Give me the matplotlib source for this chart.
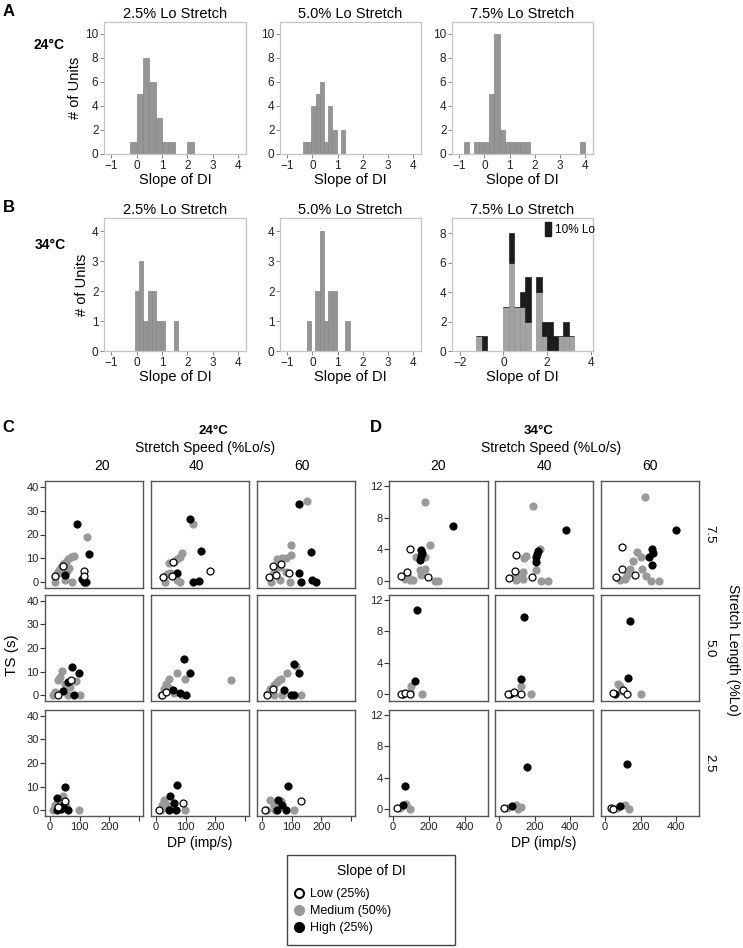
import matplotlib
matplotlib.use('Agg')
import matplotlib.pyplot as plt
from matplotlib.lines import Line2D
from matplotlib.patches import Patch, Rectangle

plt.rcParams['font.family'] = ['Liberation Sans', 'DejaVu Sans']

# ---- histogram data (bin start, bin width, counts) ----
hist_titles = ['2.5% Lo Stretch', '5.0% Lo Stretch', '7.5% Lo Stretch']

a_starts = [-0.25, -0.37, -0.8]
a_widths = [0.25, 0.166, 0.2]
a25_counts = [1, 5, 8, 6, 3, 1, 1, 0, 0, 1]
a50_counts = [1, 1, 4, 5, 6, 1, 4, 2, 0, 2]
a75_counts = [1, 0, 1, 1, 1, 5, 10, 2, 1, 1, 1, 1, 1, 0, 0, 0, 0, 0, 0, 0, 0, 0, 0, 1]

b_starts = [-0.07, -0.22, -1.25]
b_widths = [0.17, 0.17, 0.25]
b25_counts = [2, 3, 1, 2, 2, 1, 1, 0, 0, 1]
b50_counts = [1, 0, 2, 4, 1, 2, 2, 0, 0, 1]
b75_counts = [1, 0, 0, 0, 0, 3, 6, 3, 3, 2, 0, 4, 1, 0, 0, 1, 1, 1]
b75_10lo = [0, 1, 0, 0, 0, 0, 2, 0, 1, 3, 0, 1, 1, 2, 1, 0, 1, 0]

# ---- scatter data: (DP, TS) per slope group ----
# 24C, stretch length 7.5 / 5.0 / 2.5, speed 20 / 40 / 60
c75_20 = dict(
    low=[(113, 4.9), (113, 2.8), (15, 2.8), (43, 7)],
    med=[(126, 18.8), (81, 11), (72, 10.4), (62, 9.6), (53, 8.6), (45, 7.7), (37, 6.6), (29, 5.2),
         (23, 4), (17, 2.4), (17, 0.3), (51, 1), (73, 0.3), (64, 5.9), (56, 4.9), (39, 3.8)],
    high=[(92, 24.3), (130, 11.8), (51, 3.1), (109, 1.3), (113, 0.1), (122, 0.1)])
c75_40 = dict(
    low=[(56, 8.6), (23, 2.4), (54, 2.6), (180, 4.9)],
    med=[(124, 24.4), (88, 12.1), (82, 10.7), (71, 9.6), (62, 8.6), (43, 7.9), (37, 3.5), (48, 3.8),
         (60, 3.1), (29, 0), (82, 0), (71, 1)],
    high=[(114, 26.6), (150, 13.2), (71, 4), (124, 0), (146, 0.7)])
c75_60 = dict(
    low=[(37, 6.8), (65, 7.5), (90, 4), (23, 2.4), (46, 2.9)],
    med=[(151, 34.1), (96, 15.6), (98, 11.4), (82, 10), (68, 10.3), (51, 9.6), (62, 6.6), (79, 4.5),
         (39, 4.5), (30, 0), (62, 1), (93, 0)],
    high=[(126, 32.6), (164, 12.8), (124, 4), (130, 0), (169, 1), (181, 0)])
c50_20 = dict(
    low=[(71, 6.3), (28, 0)],
    med=[(39, 10.1), (34, 7.7), (28, 6.3), (17, 1.4), (51, 4.9), (68, 3.5), (88, 5.9), (101, 0),
         (62, 0), (11, 0)],
    high=[(75, 11.9), (96, 9.5), (62, 5.6), (45, 1.8), (79, 0)])
c50_40 = dict(
    low=[(20, 0), (32, 1.4)],
    med=[(71, 9.3), (43, 6.7), (35, 4.6), (26, 2.8), (99, 7), (251, 6.6), (15, 0), (60, 1), (88, 0),
         (40, 3.4)],
    high=[(93, 15.2), (113, 9.5), (56, 2.1), (79, 1.1), (101, 0)])
c50_60 = dict(
    low=[(37, 2.8), (17, 0)],
    med=[(84, 9.3), (65, 7), (51, 5.6), (39, 4.2), (28, 2.8), (17, 0.7), (39, 0), (130, 0), (113, 12.6),
         (56, 6.3), (68, 0)],
    high=[(109, 13.3), (126, 9.5), (73, 2.1), (99, 0), (107, 0)])
c25_20 = dict(
    low=[(51, 3.8), (28, 1.4)],
    med=[(45, 6.1), (34, 3.8), (17, 2.4), (9, 0.3), (96, 0.3), (53, 2)],
    high=[(51, 9.8), (25, 5.4), (45, 1.7), (23, 0.3), (37, 0.6), (62, 0.3)])
c25_40 = dict(
    low=[(90, 3.3), (9, 0.3)],
    med=[(26, 4.5), (37, 2.4), (15, 0.3), (99, 0.3), (20, 2.4), (48, 1.4)],
    high=[(69, 10.7), (48, 5.9), (60, 3.1), (43, 0.3), (68, 0.3)])
c25_60 = dict(
    low=[(132, 3.8), (11, 0.3)],
    med=[(28, 4.5), (39, 2.4), (17, 0.3), (107, 0.3), (65, 3.8), (45, 0.3)],
    high=[(87, 10.3), (54, 4.5), (68, 2.1), (51, 0.3), (79, 0.3)])

# 34C
d75_20 = dict(
    low=[(96, 4), (80, 1.1), (46, 0.7), (194, 0.5)],
    med=[(176, 10), (204, 4.5), (130, 3.1), (176, 3.1), (148, 1.4), (176, 1.5), (157, 0.8), (65, 0.3),
         (111, 0.1), (231, 0), (250, 0), (93, 0.2), (83, 0.5)],
    high=[(333, 6.9), (157, 3.9), (163, 3.6), (154, 3.2), (148, 2.7)])
d75_40 = dict(
    low=[(94, 3.3), (89, 1.3), (57, 0.4), (185, 0.5)],
    med=[(194, 9.5), (228, 4.1), (154, 3.2), (141, 2.9), (206, 1.4), (135, 1.2), (117, 0.8), (135, 0.3),
         (237, 0), (274, 0), (98, 0.1), (83, 0.5)],
    high=[(376, 6.5), (219, 3.8), (213, 3.4), (206, 3.1), (206, 2.4)])
d75_60 = dict(
    low=[(96, 4.3), (96, 1.5), (63, 0.5), (169, 0.8)],
    med=[(224, 10.6), (181, 3.7), (202, 3.1), (156, 2.6), (206, 1.6), (141, 1.5), (122, 0.8), (230, 0.6),
         (113, 0.3), (259, 0), (302, 0), (85, 0.2)],
    high=[(400, 6.4), (267, 4.1), (270, 3.5), (248, 3.1), (267, 2)])
d50_20 = dict(
    low=[(46, 0.1), (65, 0.2), (93, 0.1)],
    med=[(102, 1.1), (161, 0), (93, 0.3)],
    high=[(133, 10.7), (120, 1.7), (56, 0)])
d50_40 = dict(
    low=[(52, 0.1), (83, 0.3), (126, 0)],
    med=[(126, 1.1), (181, 0), (98, 0.2)],
    high=[(139, 9.8), (126, 1.9), (61, 0)])
d50_60 = dict(
    low=[(48, 0.2), (104, 0.6), (122, 0)],
    med=[(85, 1.1), (76, 1.3), (200, 0), (94, 0.4)],
    high=[(141, 9.3), (128, 2.1), (57, 0)])
d25_20 = dict(
    low=[(24, 0.2)],
    med=[(74, 0.7), (96, 0.1), (37, 0.2)],
    high=[(69, 2.9), (56, 0.5)])
d25_40 = dict(
    low=[(28, 0.2)],
    med=[(98, 0.6), (43, 0.2), (126, 0.3), (107, 0.1)],
    high=[(159, 5.4), (74, 0.4)])
d25_60 = dict(
    low=[(35, 0.2), (48, 0.1)],
    med=[(113, 0.6), (137, 0.1), (67, 0.2)],
    high=[(122, 5.8), (85, 0.4)])

speeds = ['20', '40', '60']
lengths = ['7.5', '5.0', '2.5']
group_labels = ['Low (25%)', 'Medium (50%)', 'High (25%)']

W, H = 743, 948
fig = plt.figure(figsize=(W / 100, H / 100), dpi=100)


def add_ax(l, t, r, b):
    # axes from pixel box of the figure
    return fig.add_axes([l / W, 1 - b / H, (r - l) / W, (b - t) / H])


def ftext(x, y, s, **kw):
    kw.setdefault('ha', 'center')
    kw.setdefault('va', 'center')
    fig.text(x / W, 1 - y / H, s, **kw)


def style_hist(ax):
    for sp in ax.spines.values():
        sp.set_color('#c4c4c4')
        sp.set_linewidth(0.9)
    ax.tick_params(length=3, width=0.7, color='#888888', labelsize=8.5, labelcolor='#222222', pad=1)


hist_cols = [(104, 246), (280, 421), (452, 593)]
bar_grey = '#959595'

# row A (24C)
for i, counts in enumerate([a25_counts, a50_counts, a75_counts]):
    l, r = hist_cols[i]
    ax = add_ax(l, 22, r, 154)
    lefts = [a_starts[i] + a_widths[i] * k for k in range(len(counts))]
    ax.bar(lefts, counts, width=a_widths[i], align='edge', color=bar_grey,
           edgecolor='#868686', linewidth=0.5)
    ax.set_xlim(-1.28, 4.3)
    ax.set_ylim(0, 11)
    ax.set_xticks([-1, 0, 1, 2, 3, 4])
    ax.set_yticks([0, 2, 4, 6, 8, 10])
    style_hist(ax)
    ax.set_title(hist_titles[i], fontsize=10.5, pad=3)
    ax.set_xlabel('Slope of DI', fontsize=10.5, labelpad=1)
    if i == 0:
        ax.set_ylabel('# of Units', fontsize=10.5, labelpad=2)

# row B (34C)
for i, counts in enumerate([b25_counts, b50_counts, b75_counts]):
    l, r = hist_cols[i]
    ax = add_ax(l, 218, r, 351)
    lefts = [b_starts[i] + b_widths[i] * k for k in range(len(counts))]
    if i < 2:
        ax.bar(lefts, counts, width=b_widths[i], align='edge', color=bar_grey,
               edgecolor='#868686', linewidth=0.5)
        ax.set_xlim(-1.28, 4.3)
        ax.set_ylim(0, 4.45)
        ax.set_xticks([-1, 0, 1, 2, 3, 4])
        ax.set_yticks([0, 1, 2, 3, 4])
    else:
        ax.bar(lefts, counts, width=b_widths[i], align='edge', color='#a3a3a3',
               edgecolor='#939393', linewidth=0.5)
        ax.bar(lefts, b75_10lo, bottom=counts, width=b_widths[i], align='edge',
               color='#1c1c1c', edgecolor='#1c1c1c', linewidth=0.5)
        ax.set_xlim(-2.35, 4.1)
        ax.set_ylim(0, 9.02)
        ax.set_xticks([-2, 0, 2, 4])
        ax.set_yticks([0, 2, 4, 6, 8])
        ax.legend(handles=[Patch(facecolor='#1c1c1c', edgecolor='#1c1c1c')], labels=['10% Lo'],
                  loc='upper left', bbox_to_anchor=(0.66, 0.97), frameon=False, fontsize=8.5,
                  handlelength=0.5, handleheight=1.4, handletextpad=0.3, borderpad=0,
                  borderaxespad=0)
    style_hist(ax)
    ax.set_title(hist_titles[i], fontsize=10.5, pad=3)
    ax.set_xlabel('Slope of DI', fontsize=10.5, labelpad=1)
    if i == 0:
        ax.set_ylabel('# of Units', fontsize=10.5, labelpad=2)

ftext(9, 12, 'A', fontsize=12, fontweight='bold')
ftext(49, 45, '24°C', fontsize=10, fontweight='bold')
ftext(9, 208, 'B', fontsize=12, fontweight='bold')
ftext(50, 245, '34°C', fontsize=10, fontweight='bold')

# ---- scatter grids ----
row_tb = [(481, 588), (595, 701), (710, 816)]
c_cols = [(45, 143), (151, 249), (257, 355)]
d_cols = [(389, 488), (495, 593), (601, 699)]

c_panels = [[c75_20, c75_40, c75_60], [c50_20, c50_40, c50_60], [c25_20, c25_40, c25_60]]
d_panels = [[d75_20, d75_40, d75_60], [d50_20, d50_40, d50_60], [d25_20, d25_40, d25_60]]


def draw_points(ax, pts):
    for key, fc, ec in [('med', '#999999', '#999999'), ('high', 'black', 'black'),
                        ('low', 'white', 'black')]:
        xs = [p[0] for p in pts[key]]
        ys = [p[1] for p in pts[key]]
        ax.scatter(xs, ys, s=25, facecolor=fc, edgecolor=ec, linewidth=0.9, zorder=3)


for grid, cols, xlim, ylim, xt, xtl, yt in [
        (c_panels, c_cols, (-17, 313), (-2.4, 42.4), [0, 100, 200, 300], ['0', '100', '200', ''],
         [0, 10, 20, 30, 40]),
        (d_panels, d_cols, (-22, 528), (-0.85, 12.6), [0, 200, 400], ['0', '200', '400'],
         [0, 4, 8, 12])]:
    for ri, (t, b) in enumerate(row_tb):
        for ci, (l, r) in enumerate(cols):
            ax = add_ax(l, t, r, b)
            draw_points(ax, grid[ri][ci])
            ax.set_xlim(*xlim)
            ax.set_ylim(*ylim)
            for sp in ax.spines.values():
                sp.set_color('#555555')
                sp.set_linewidth(1.0)
            ax.tick_params(length=3.5, width=0.8, color='#333333', labelsize=8,
                           labelcolor='#222222', pad=1)
            if ci == 0:
                ax.set_yticks(yt)
            else:
                ax.set_yticks([])
            if ri == 2:
                ax.set_xticks(xt)
                ax.set_xticklabels(xtl)
            else:
                ax.set_xticks([])

# headers
ftext(8, 428, 'C', fontsize=12, fontweight='bold')
ftext(376, 428, 'D', fontsize=12, fontweight='bold')
ftext(213, 431, '24°C', fontsize=9.5, fontweight='bold')
ftext(539, 431, '34°C', fontsize=9.5, fontweight='bold')
ftext(205, 448, 'Stretch Speed (%Lo/s)', fontsize=10)
ftext(551, 448, 'Stretch Speed (%Lo/s)', fontsize=10)
for x, s in zip([102, 196, 302], speeds):
    ftext(x, 466, s, fontsize=10)
for (l, r), s in zip(d_cols, speeds):
    ftext((l + r) / 2, 466, s, fontsize=10)
for (t, b), s in zip(row_tb, lengths):
    ftext(709, (t + b) / 2, s, fontsize=9.5, rotation=-90)
ftext(733, 650, 'Stretch Length (%Lo)', fontsize=10, rotation=-90)
ftext(12, 655, 'TS (s)', fontsize=11, rotation=90)
ftext(200, 843, 'DP (imp/s)', fontsize=10)
ftext(544, 843, 'DP (imp/s)', fontsize=10)

# bottom legend box
fig.patches.append(Rectangle((287 / W, 1 - 945 / H), 168 / W, 90 / H, transform=fig.transFigure,
                             facecolor='white', edgecolor='#444444', linewidth=1.0))
ftext(371, 871, 'Slope of DI', fontsize=10)
handles = [Line2D([], [], marker='o', linestyle='none', markersize=6.5, markerfacecolor=fc,
                  markeredgecolor=ec, markeredgewidth=1.5)
           for fc, ec in [('white', 'black'), ('#999999', '#999999'), ('black', 'black')]]
fig.legend(handles, group_labels, loc='upper left', bbox_to_anchor=(293 / W, 1 - 888 / H),
           frameon=False, fontsize=9, handlelength=1.0, handletextpad=0.4, labelspacing=0.4,
           borderpad=0, borderaxespad=0)

fig.savefig('out.png', dpi=100)
